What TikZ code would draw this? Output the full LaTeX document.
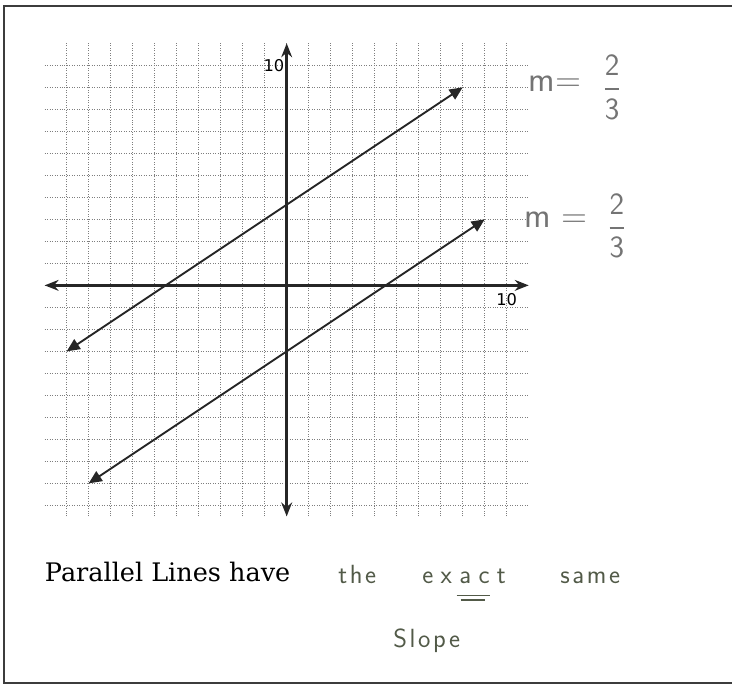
\documentclass[tikz,border=0pt]{standalone}
\usepackage{amsmath}
\usepackage{fontspec}
\usepackage{xcolor}
\usepackage{tikz}
\usetikzlibrary{arrows.meta,positioning}
\newfontfamily\bookfont{DejaVu Serif}
\newfontfamily\tickfont{DejaVu Sans}
\newfontfamily\handfont{Latin Modern Sans}
\newfontfamily\handwide{Latin Modern Sans}[LetterSpace=10]
\definecolor{pencil}{HTML}{747474}
\definecolor{greenpencil}{HTML}{525A48}
\definecolor{gridgray}{HTML}{7E7E7E}
\definecolor{framegray}{HTML}{3C3C3C}

\begin{document}
\begin{tikzpicture}[x=0.5cm,y=0.5cm,
  gridline/.style={gridgray,densely dotted,line width=0.6pt},
  axis/.style={{Stealth[length=9pt,width=7pt]}-{Stealth[length=9pt,width=7pt]},line width=1.7pt,black!85},
  lin/.style={{Triangle[length=8.5pt,width=7.5pt]}-{Triangle[length=8.5pt,width=7.5pt]},line width=1.2pt,black!85},
  tick/.style={inner sep=0pt,font=\tickfont\fontsize{10.5}{10.5}\selectfont},
  slope/.style={inner sep=0pt,text=pencil,font=\handfont\fontsize{23}{23}\selectfont},
  hw/.style={inner sep=0pt,anchor=base west,text=greenpencil,font=\handwide\fontsize{17}{17}\selectfont}]
\useasboundingbox (-13.03,-18.17) rectangle (20.24,12.97);
\draw[framegray,line width=1.3pt] (20.4,12.7) -- (-12.85,12.7) -- (-12.85,-18.08) -- (20.4,-18.08);
\foreach \k in {-10,...,10} {
  \draw[gridline] (\k,-10.5) -- (\k,11);
  \draw[gridline] (-11,\k) -- (11,\k);
}
\coordinate (xl) at (-11,0); \coordinate (xr) at (11,0);
\coordinate (yb) at (0,-10.5); \coordinate (yt) at (0,11);
\draw[axis] (xl) -- (xr); \draw[axis] (yb) -- (yt);
\node[tick,anchor=east] (ylab) at (-0.1,10) {10};
\node[tick,anchor=north] (xlab) at (10,-0.35) {10};
\coordinate (p1) at (-10,-3); \coordinate (q1) at (8,9);
\coordinate (p2) at (-9,-9); \coordinate (q2) at (9,3);
\draw[lin] (p1) -- (q1); \draw[lin] (p2) -- (q2);
\node[slope] (m1) at (12.2,9.15) {m=};
\node[slope,font=\handfont\fontsize{20}{20}\selectfont] (f1) at (14.79,9.01) {$\dfrac{\text{2}}{\text{3}}$};
\node[slope] (m2) at (12.24,2.97) {m =};
\node[slope,font=\handfont\fontsize{20}{20}\selectfont] (f2) at (15.01,2.7) {$\dfrac{\text{2}}{\text{3}}$};
\node[inner sep=0pt,anchor=base west,font=\bookfont\fontsize{16.5}{18}\selectfont] (par) at (-11,-13.47) {Parallel Lines have};
\node[hw] (the) at (2.33,-13.53) {the};
\node[hw] (exact) at (6.15,-13.53) {\addfontfeature{LetterSpace=28}exact};
\node[hw] (same) at (12.42,-13.53) {same};
\node[hw] (sl) at (4.83,-16.44) {Slope};
\draw[greenpencil,line width=0.7pt] (7.72,-14.08) -- (9.24,-14.08);
\draw[greenpencil,line width=0.7pt] (7.9,-14.3) -- (9.0,-14.3);
\end{tikzpicture}
\end{document}
